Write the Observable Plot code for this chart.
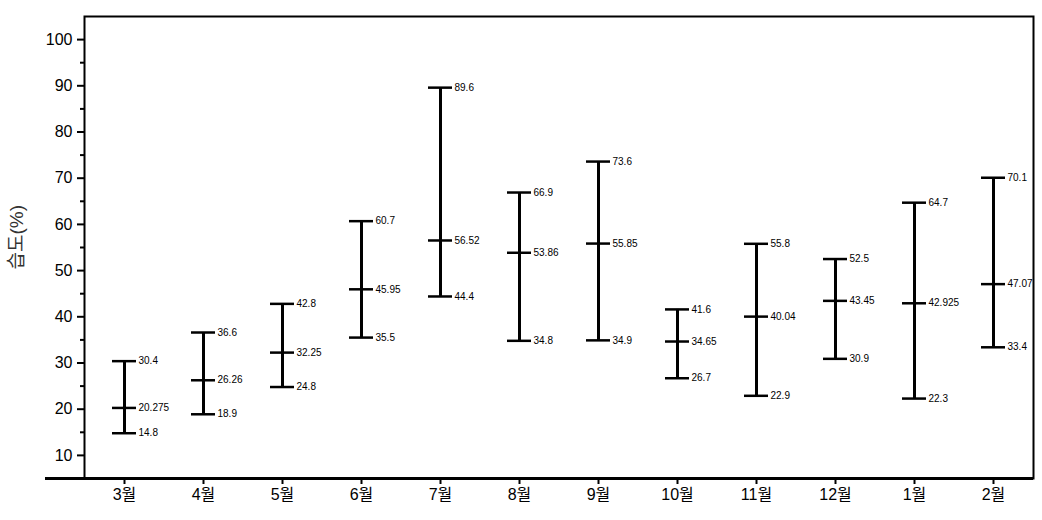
<!DOCTYPE html>
<html>
<head>
<meta charset="utf-8">
<script src="https://cdn.jsdelivr.net/npm/d3@7"></script>
<script src="https://cdn.jsdelivr.net/npm/@observablehq/plot@0.6"></script>
<style>
  html, body { margin: 0; padding: 0; background: #fff; }
  #chart svg { display: block; }
</style>
</head>
<body>
<div id="chart"></div>
<script>
const months = ["3월","4월","5월","6월","7월","8월","9월","10월","11월","12월","1월","2월"];
const maxVals = [30.4, 36.6, 42.8, 60.7, 89.6, 66.9, 73.6, 41.6, 55.8, 52.5, 64.7, 70.1];
const meanVals = [20.275, 26.26, 32.25, 45.95, 56.52, 53.86, 55.85, 34.65, 40.04, 43.45, 42.925, 47.07];
const minVals = [14.8, 18.9, 24.8, 35.5, 44.4, 34.8, 34.9, 26.7, 22.9, 30.9, 22.3, 33.4];
const yMajorTicks = [10, 20, 30, 40, 50, 60, 70, 80, 90, 100];
const yMinorTicks = [15, 25, 35, 45, 55, 65, 75, 85, 95];
const yLabel = "습도(%)";

const rows = months.map((m, i) => ({month: m, max: maxVals[i], mean: meanVals[i], min: minVals[i]}));
const points = rows.flatMap(r => [
  {month: r.month, v: r.max},
  {month: r.month, v: r.mean},
  {month: r.month, v: r.min}
]);

const font = "'Liberation Sans', Arial, 'Noto Sans CJK KR', sans-serif";

const chart = Plot.plot({
  width: 1042,
  height: 520,
  marginLeft: 84,
  marginRight: 9,
  marginTop: 16,
  marginBottom: 42,
  style: {fontFamily: font, color: "#000", background: "#fff"},
  x: {type: "band", domain: months, paddingInner: 0.696, paddingOuter: 0.354},
  y: {domain: [5, 105]},
  marks: [
    Plot.axisY(yMinorTicks, {tickSize: 4, tickFormat: () => "", strokeWidth: 2, label: null}),
    Plot.axisY(yMajorTicks, {tickSize: 7, tickPadding: 5, fontSize: 16, strokeWidth: 2, label: null}),
    Plot.axisX({tickSize: 6, tickPadding: 4, fontSize: 16, strokeWidth: 2, label: null}),
    Plot.frame({stroke: "#000", strokeWidth: 2}),
    Plot.ruleY([5], {stroke: "#000", strokeWidth: 3, insetLeft: -39}),
    Plot.ruleX(rows, {x: "month", y1: "min", y2: "max", stroke: "#000", strokeWidth: 3}),
    Plot.tickY(points, {x: "month", y: "v", stroke: "#000", strokeWidth: 2.5}),
    Plot.text(points, {x: "month", y: "v", text: d => String(d.v), dx: 14, textAnchor: "start", fontSize: 10, fill: "#000"}),
    Plot.text([yLabel], {frameAnchor: "left", dx: -68, dy: 22, rotate: -90, fontSize: 19, fill: "#333"})
  ]
});
document.getElementById("chart").append(chart);
</script>
</body>
</html>
